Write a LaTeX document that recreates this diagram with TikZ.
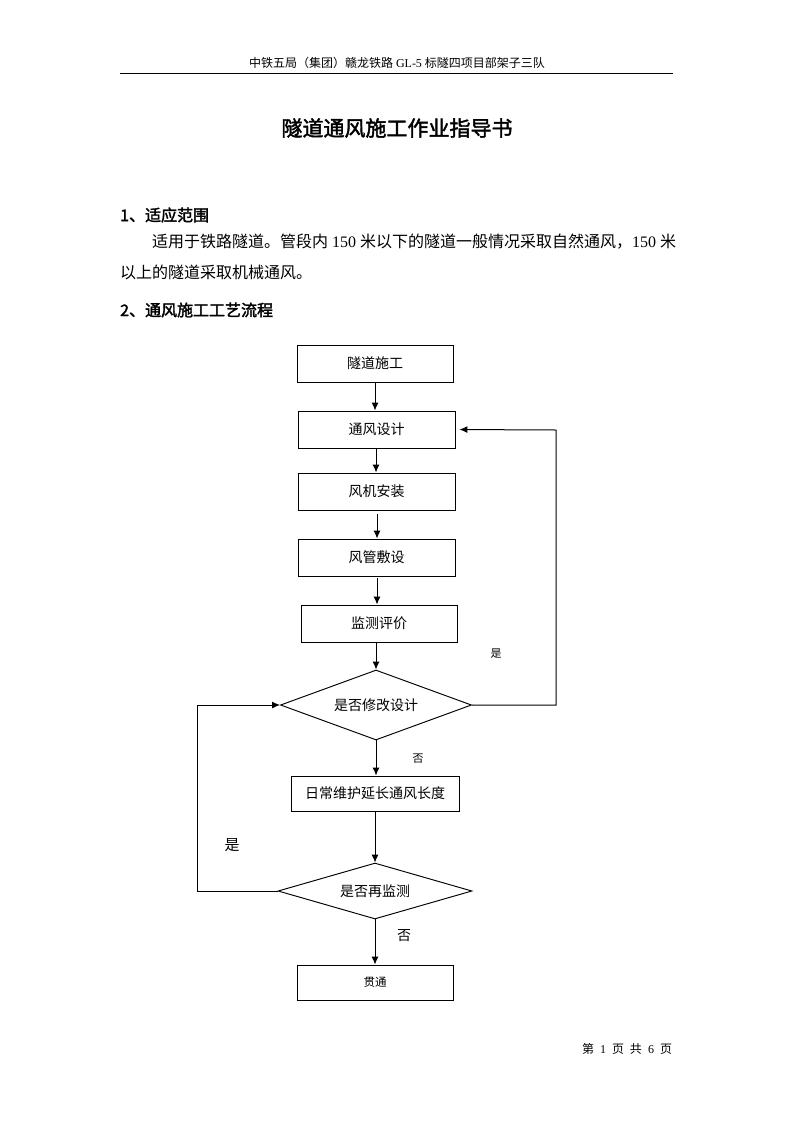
\documentclass[tikz,border=0pt]{standalone}
\usepackage{fontspec}
\setmainfont{Liberation Serif}
\newfontfamily\cjk{Noto Sans CJK SC}
\newfontfamily\cjkb[FakeBold=2]{Noto Sans CJK SC}
\usetikzlibrary{shapes.geometric,arrows.meta,calc}
\begin{document}
\begin{tikzpicture}[x=1pt,y=-1pt,
  stepbox/.style={draw,line width=0.95pt,minimum width=156pt,minimum height=37pt,inner sep=0pt,font=\fontsize{14}{16}\selectfont\cjk},
  decide/.style={draw,line width=0.95pt,shape=diamond,aspect=3,inner sep=0pt,font=\fontsize{14}{16}\selectfont\cjk},
  arr/.style={line width=1pt,-{Latex[length=8pt,width=7pt]}},
  lbl/.style={inner sep=0pt,font=\fontsize{11}{13}\selectfont\cjk},
  lblbig/.style={inner sep=0pt,font=\fontsize{15}{17}\selectfont\cjk}]
\path[fill=white,use as bounding box] (0,0) rectangle (793,1122);
% header
\node[inner sep=0pt,font=\fontsize{12}{14}\selectfont] (hdr) at (397,63) {{\cjk 中铁五局（集团）赣龙铁路} GL-5 {\cjk 标隧四项目部架子三队}};
\coordinate (hl) at (120,73);
\coordinate (hr) at (673,73);
\draw[line width=1pt] (hl) -- (hr);
% title
\node[inner sep=0pt,font=\fontsize{21}{24}\selectfont\cjkb] (title) at (397,128) {隧道通风施工作业指导书};
% section 1
\node[anchor=west,inner sep=0pt,font=\fontsize{16}{18}\selectfont\cjkb] (s1) at (120,215) {1、适应范围};
\node[anchor=west,inner sep=0pt,font=\fontsize{16}{18}\selectfont] (p1) at (152,242) {{\cjk 适用于铁路隧道。管段内} 150 {\cjk 米以下的隧道一般情况采取自然通风，}150 {\cjk 米}};
\node[anchor=west,inner sep=0pt,font=\fontsize{16}{18}\selectfont\cjk] (p2) at (120,272) {以上的隧道采取机械通风。};
\node[anchor=west,inner sep=0pt,font=\fontsize{16}{18}\selectfont\cjkb] (s2) at (120,310) {2、通风施工工艺流程};
% flowchart
\node[stepbox] (b1) at (375,363.5) {隧道施工};
\node[stepbox,minimum width=157pt] (b2) at (376.5,429.5) {通风设计};
\node[stepbox,minimum width=157pt] (b3) at (376.5,491.5) {风机安装};
\node[stepbox,minimum width=157pt] (b4) at (376.5,557.5) {风管敷设};
\node[stepbox] (b5) at (379,623.5) {监测评价};
\node[decide,minimum width=191pt,minimum height=70pt] (d1) at (376,705) {是否修改设计};
\node[stepbox,minimum width=168pt,minimum height=35pt] (b6) at (375,793.5) {日常维护延长通风长度};
\node[decide,minimum width=194pt,minimum height=56pt] (d2) at (375,891) {是否再监测};
\node[stepbox,font=\fontsize{11.5}{13}\selectfont\cjk,minimum height=35pt] (b7) at (375,982.5) {贯通};
% connectors
\draw[arr] (b1.south) -- (b1.south |- b2.north);
\draw[arr] (b2.south -| 376,0) -- (376,0 |- b3.north);
\draw[arr,shorten <=4pt] (b3.south -| 377,0) -- (377,0 |- b4.north);
\draw[arr,shorten <=2pt] (b4.south -| 377,0) -- (377,0 |- b5.north);
\draw[arr] (b5.south -| d1.north) -- (d1.north);
\draw[arr] (d1.south) -- (d1.south |- b6.north);
\draw[arr] (b6.south -| d2.north) -- (d2.north);
\draw[arr] (d2.south) -- (d2.south |- b7.north);
\coordinate (rc) at (556,430);
\draw[arr,shorten >=4pt] (d1.east) -| (rc) -- (b2.east);
\coordinate (lc) at (197,705);
\draw[arr] (d2.west) -| (lc) -- (d1.west);
% labels
\node[lbl] (y1) at (496,654) {是};
\node[lbl] (n1) at (418,759) {否};
\node[lblbig] (y2) at (232,845) {是};
\node[lblbig,font=\fontsize{14}{16}\selectfont\cjk] (n2) at (404,936) {否};
% footer
\node[inner sep=0pt,font=\fontsize{12}{14}\selectfont] (ftr) at (627,1049) {{\cjk 第}\hspace{6pt}1\hspace{6pt}{\cjk 页}\hspace{6pt}{\cjk 共}\hspace{6pt}6\hspace{6pt}{\cjk 页}};
\end{tikzpicture}
\end{document}
